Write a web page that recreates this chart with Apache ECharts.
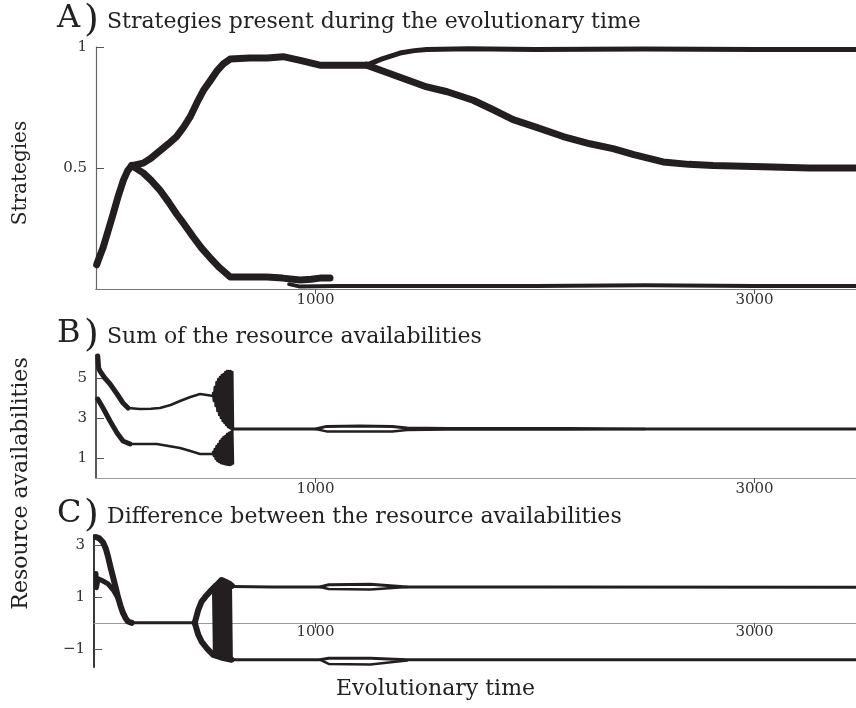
<!DOCTYPE html>
<html>
<head>
<meta charset="utf-8">
<script src="https://cdn.jsdelivr.net/npm/echarts@6/dist/echarts.min.js"></script>
<style>
html,body{margin:0;padding:0;background:#fff;}
#chart{width:856px;height:708px;}
</style>
</head>
<body>
<div id="chart"></div>
<script>
// ---------- tick labels ----------
const xTicks = [1000, 3000];
const yTicksA = [0.5, 1];
const yTicksB = [1, 3, 5];
const yTicksC = [-1, 1, 3];

// ---------- A) strategies [time, strategy] ----------
const stratRise = [[3,0.10],[15,0.13],[32,0.17],[55,0.24],[78,0.31],[100,0.38],[125,0.45],[145,0.49],[163,0.51]];
const stratUpper = [[163,0.51],[215,0.52],[250,0.54],[290,0.57],[330,0.60],[367,0.63],[400,0.67],[428,0.71],[460,0.77],[489,0.82],[520,0.86],[550,0.90],[580,0.93],[611,0.95],[700,0.955],[780,0.955],[853,0.96],[930,0.945],[1020,0.925],[1120,0.925],[1233,0.925]];
const stratTop = [[1233,0.925],[1300,0.95],[1385,0.975],[1450,0.985],[1507,0.99],[1700,0.993],[2000,0.99],[2500,0.992],[3000,0.99],[3462,0.99]];
const stratMid = [[1233,0.925],[1309,0.90],[1400,0.87],[1507,0.835],[1600,0.815],[1718,0.78],[1800,0.745],[1900,0.70],[2000,0.67],[2128,0.63],[2250,0.60],[2355,0.58],[2450,0.555],[2583,0.525],[2700,0.515],[2811,0.51],[3039,0.505],[3250,0.50],[3462,0.50]];
const stratLow = [[163,0.51],[215,0.48],[250,0.45],[290,0.41],[330,0.36],[367,0.31],[400,0.27],[443,0.215],[480,0.17],[519,0.13],[560,0.09],[611,0.05],[700,0.05],[778,0.05],[850,0.045],[930,0.037],[980,0.04],[1020,0.045],[1066,0.045]];
const stratBottom = [[880,0.02],[930,0.01],[1100,0.012],[1500,0.012],[2000,0.012],[2500,0.015],[3000,0.012],[3462,0.012]];

// ---------- B) sum of resource availabilities ----------
const bUpperEarly = [[8,6.1],[12,5.5],[18,5.35],[40,5.0],[64,4.7],[96,4.2],[123,3.75],[146,3.5]];
const bUpper = [[146,3.5],[200,3.45],[250,3.46],[291,3.5],[340,3.65],[383,3.85],[430,4.05],[474,4.2],[505,4.15],[533,4.1]];
const bLowerEarly = [[8,3.95],[32,3.5],[64,2.85],[96,2.25],[123,1.85],[155,1.7]];
const bLower = [[155,1.7],[277,1.7],[330,1.6],[383,1.5],[430,1.35],[474,1.2],[505,1.2],[533,1.2]];
const bBellUpper = [[533,4.25],[537,3.85],[541,4.55],[545,3.6],[549,4.8],[553,3.35],[557,4.95],[561,3.15],[565,5.05],[569,3.0],[573,5.15],[577,2.85],[581,5.2],[585,2.75],[589,5.3],[593,2.65],[597,5.35],[601,2.55],[605,5.35],[609,2.5],[613,5.35],[617,2.45],[621,5.3],[624,2.45]];
const bBellLower = [[533,1.3],[537,1.1],[541,1.45],[545,0.95],[549,1.6],[553,0.85],[557,1.7],[561,0.8],[565,1.85],[569,0.75],[573,1.95],[577,0.72],[581,2.05],[585,0.7],[589,2.1],[593,0.68],[597,2.2],[601,0.66],[605,2.25],[609,0.65],[613,2.3],[617,0.68],[621,2.4],[624,0.72]];
const bLate = [[624,2.45],[800,2.45],[1000,2.45],[1050,2.58],[1200,2.6],[1350,2.58],[1417,2.5],[1600,2.47],[2146,2.47],[2500,2.45],[3000,2.45],[3462,2.45]];
const bLateEye = [[1000,2.45],[1050,2.33],[1200,2.32],[1350,2.33],[1417,2.4],[1600,2.42],[2146,2.42],[2500,2.45]];

// ---------- C) difference between resource availabilities ----------
const cEarly1 = [[0,3.3],[15,3.25],[32,3.1],[45,2.85],[55,2.55],[66,2.15],[78,1.75],[90,1.35],[100,1.0],[112,0.65],[123,0.38],[135,0.18],[146,0.05],[163,0]];
const cEarly2 = [[0,1.9],[2,1.35],[10,1.7],[30,1.62],[55,1.5],[78,1.27],[100,0.96]];
const cZero = [[163,0],[250,0],[350,0],[450,0]];
const cArmUp = [[450,0],[466,0.5],[481,0.82],[500,1.02],[519,1.2],[540,1.38],[557,1.52],[572,1.65],[595,1.56],[610,1.5],[620,1.42]];
const cArmLow = [[450,0],[466,-0.46],[481,-0.72],[504,-0.97],[534,-1.23],[560,-1.3],[580,-1.36],[618,-1.42]];
const cZig = [[534,1.35],[538,-1.2],[542,1.42],[546,-1.25],[550,1.5],[554,-1.28],[558,1.55],[562,-1.3],[566,1.6],[570,-1.33],[574,1.63],[578,-1.35],[582,1.6],[586,-1.37],[590,1.58],[594,-1.38],[598,1.55],[602,-1.4],[606,1.5],[610,-1.4],[614,1.45],[618,-1.42]];
const cUpLine = [[620,1.4],[800,1.38],[1020,1.38],[1060,1.47],[1250,1.48],[1417,1.38],[2000,1.38],[3462,1.37]];
const cUpEye = [[1020,1.38],[1060,1.3],[1250,1.28],[1417,1.38]];
const cLowLine = [[618,-1.42],[800,-1.42],[1020,-1.42],[1060,-1.36],[1250,-1.36],[1417,-1.42],[3462,-1.42]];
const cLowEye = [[1020,-1.42],[1060,-1.58],[1250,-1.6],[1417,-1.45]];

// ---------- drawing ----------
const INK = '#231f20';
const FONT = '"DejaVu Serif", "Liberation Serif", serif';
const chart = echarts.init(document.getElementById('chart'), null, {renderer: 'canvas'});

function line(data, idx, width) {
  return {
    type: 'line', data: data, xAxisIndex: idx, yAxisIndex: idx,
    showSymbol: false, symbol: 'none', animation: false, silent: true,
    lineStyle: {color: INK, width: width, cap: 'round', join: 'round'},
    z: 3
  };
}
function fmt(v) { return v < 0 ? '\u2212' + Math.abs(v) : String(v); }

function xAxisCfg(gridIndex, min, lineColor, margin, offset) {
  return {
    type: 'value', gridIndex: gridIndex, min: min, max: 3462, offset: offset,
    axisLine: {show: true, onZero: false, lineStyle: {color: lineColor, width: 1}},
    axisTick: {show: true, customValues: xTicks, length: 5, lineStyle: {color: '#555'}},
    axisLabel: {customValues: xTicks, margin: margin, color: '#333', fontFamily: FONT, fontSize: 15, formatter: fmt},
    splitLine: {show: false}
  };
}
function yAxisCfg(gridIndex, min, max, ticks, lineColor, lw) {
  return {
    type: 'value', gridIndex: gridIndex, min: min, max: max,
    axisLine: {show: true, onZero: false, lineStyle: {color: lineColor, width: lw}},
    axisTick: {show: true, inside: true, customValues: ticks, length: 8, lineStyle: {color: '#555'}},
    axisLabel: {customValues: ticks, margin: 9, color: '#333', fontFamily: FONT, fontSize: 15, formatter: fmt},
    splitLine: {show: false}
  };
}

const xAxes = [
  xAxisCfg(0, 0, '#444', 4, 0),
  xAxisCfg(1, 0, '#999', 4, 0),
  xAxisCfg(2, -9, '#999', 2, -44),
  {type: 'value', gridIndex: 0, position: 'top', min: 0, max: 3462,
   axisLine: {show: true, lineStyle: {color: '#777', width: 1}},
   axisTick: {show: false}, axisLabel: {show: false}, splitLine: {show: false}}
];
const yAxes = [
  yAxisCfg(0, 0, 1, yTicksA, '#666', 1.2),
  yAxisCfg(1, 0, 6.15, yTicksB, '#222', 1.5),
  yAxisCfg(2, -1.7, 3.38, yTicksC, '#222', 1.8)
];

const series = [
  line(stratRise, 0, 7), line(stratUpper, 0, 7), line(stratTop, 0, 5),
  line(stratMid, 0, 7), line(stratLow, 0, 7), line(stratBottom, 0, 4),
  line(bUpperEarly, 1, 5), line(bUpper, 1, 2.5), line(bLowerEarly, 1, 5), line(bLower, 1, 2.5),
  line(bBellUpper, 1, 2.5), line(bBellLower, 1, 2.5), line(bLate, 1, 3), line(bLateEye, 1, 2.5),
  line(cEarly1, 2, 6), line(cEarly2, 2, 5), line(cZero, 2, 3), line(cArmUp, 2, 6), line(cArmLow, 2, 6),
  line(cZig, 2, 2.5), line(cUpLine, 2, 3), line(cUpEye, 2, 2.5), line(cLowLine, 2, 3), line(cLowEye, 2, 2.5)
];

function txt(text, x, y, size, opts) {
  return Object.assign({
    type: 'text', x: x, y: y, silent: true,
    style: {text: text, fill: '#222', font: size + 'px ' + FONT, textAlign: 'left', textVerticalAlign: 'middle'}
  }, opts || {});
}
const graphics = [
  txt('A', 57, 19, 32), txt(')', 84, 21, 38), txt('Strategies present during the evolutionary time', 107, 22.5, 22),
  txt('B', 57, 333.5, 32), txt(')', 84, 336.5, 38), txt('Sum of the resource availabilities', 107, 337, 22),
  txt('C', 57, 513.5, 32), txt(')', 84, 516.5, 38), txt('Difference between the resource availabilities', 107, 517, 22),
  {type: 'text', x: 21, y: 173, rotation: Math.PI / 2, silent: true,
   style: {text: 'Strategies', fill: '#222', font: '20px ' + FONT, textAlign: 'center', textVerticalAlign: 'middle'}},
  {type: 'text', x: 21, y: 483.5, rotation: Math.PI / 2, silent: true,
   style: {text: 'Resource availabilities', fill: '#222', font: '22px ' + FONT, textAlign: 'center', textVerticalAlign: 'middle'}},
  {type: 'text', x: 435.5, y: 689, silent: true,
   style: {text: 'Evolutionary time', fill: '#222', font: '22px ' + FONT, textAlign: 'center', textVerticalAlign: 'middle'}}
];

chart.setOption({
  animation: false,
  backgroundColor: '#fff',
  grid: [
    {left: 96, right: 0, top: 47, height: 242},
    {left: 96, right: 0, top: 355, height: 123},
    {left: 94, right: 0, top: 535, height: 132}
  ],
  xAxis: xAxes,
  yAxis: yAxes,
  series: series,
  graphic: graphics
});
</script>
</body>
</html>
